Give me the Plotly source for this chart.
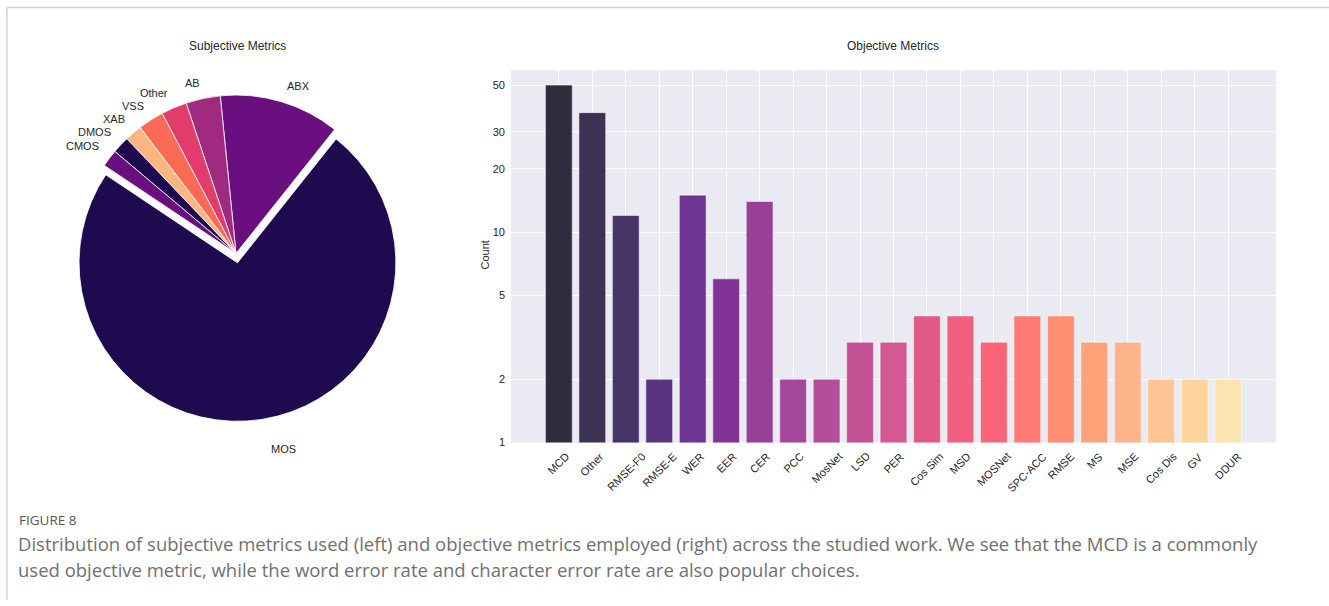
import math
import plotly.graph_objects as go

W, H = 1329, 606

# ---------------- data ----------------
pie_labels = ["MOS", "ABX", "AB", "Other", "VSS", "XAB", "DMOS", "CMOS"]
pie_values = [84, 14, 4, 3, 3, 2, 2, 2]
pie_colors = ["#1f0a50", "#690f80", "#a02a80", "#e13c6c", "#fa6a55", "#feb67e",
              "#1f0a50", "#690f80"]
pie_pull = [0.06, 0, 0, 0, 0, 0, 0, 0]

bar_labels = ["MCD", "Other", "RMSE-F0", "RMSE-E", "WER", "EER", "CER", "PCC",
              "MosNet", "LSD", "PER", "Cos Sim", "MSD", "MOSNet", "SPC-ACC",
              "RMSE", "MS", "MSE", "Cos Dis", "GV", "DDUR"]
bar_values = [50, 37, 12, 2, 15, 6, 14, 2, 2, 3, 3, 4, 4, 3, 4, 4, 3, 3, 2, 2, 2]
bar_colors = ["#2f2d3e", "#3c3254", "#463469", "#5a3480", "#6e3494", "#823496",
              "#96409a", "#a5489b", "#b44e9b", "#c35294", "#d45892", "#e15a87",
              "#f35f7f", "#fa6478", "#fe7a73", "#fe8f73", "#fea27a", "#feb48a",
              "#fec494", "#fdd49c", "#fae4b0"]
y_ticks = [1, 2, 5, 10, 20, 30, 50]

# ---------------- helpers ----------------
def px(x):
    return x / W

def py(y):
    return 1 - y / H

FONT = "Liberation Sans, Arial, sans-serif"
TXT = "#262626"

fig = go.Figure()

# ---------------- pie ----------------
cx, cy, r = 236, 256, 160
box = r * (2 + 2 * max(pie_pull))
first_end = 51.5  # math degrees where the first slice (MOS) ends, going counterclockwise
total = sum(pie_values)

fig.add_trace(go.Pie(
    labels=pie_labels, values=pie_values, sort=False,
    direction="counterclockwise", rotation=90 - first_end,
    pull=pie_pull, textinfo="none", hoverinfo="label+value",
    marker=dict(colors=pie_colors, line=dict(color="white", width=0.8)),
    domain=dict(x=[px(cx - box / 2), px(cx + box / 2)],
                y=[py(cy + box / 2), py(cy - box / 2)]),
    showlegend=False,
))

annotations = []
start_angle = first_end - pie_values[0] / total * 360
cum = 0
lcx, lcy = 237, 250
label_dist = [206, 170, 170, 170, 170, 170, 170, 170]
for lab, v, d in zip(pie_labels, pie_values, label_dist):
    th = math.radians(start_angle + (cum + v / 2) / total * 360)
    cum += v
    lx = lcx + d * math.cos(th)
    ly = lcy - d * math.sin(th)
    annotations.append(dict(
        x=px(lx), y=py(ly), xref="paper", yref="paper", text=lab,
        showarrow=False, xanchor="left" if math.cos(th) > 0 else "right",
        yanchor="middle", font=dict(family=FONT, size=11, color=TXT)))

# ---------------- bars ----------------
fig.add_trace(go.Bar(
    x=bar_labels, y=bar_values, width=0.8,
    marker=dict(color=bar_colors, line=dict(color="rgba(255,255,255,0.5)", width=1)),
    xaxis="x", yaxis="y", showlegend=False,
))

x0, x1, y0, y1 = 511, 1276, 71, 447
n = len(bar_labels)
fig.update_layout(
    width=W, height=H,
    margin=dict(l=0, r=0, t=0, b=0),
    paper_bgcolor="white", plot_bgcolor="#eaeaf2",
    xaxis=dict(domain=[px(x0), px(x1)], anchor="y",
               range=[-1.43, n - 1 + 1.43], type="category",
               showgrid=True, gridcolor="white", gridwidth=1,
               showticklabels=False, ticks="", zeroline=False, showline=False),
    yaxis=dict(domain=[py(y1), py(y0)], anchor="x", type="log",
               range=[0, math.log10(58.8)], tickvals=y_ticks,
               ticktext=[str(t) for t in y_ticks],
               showgrid=True, gridcolor="white", gridwidth=1,
               ticks="", zeroline=False, showline=False, ticklabelstandoff=5,
               tickfont=dict(family=FONT, size=11, color=TXT)),
)

# rotated category labels centred under each bar
for lab in bar_labels:
    annotations.append(dict(
        x=lab, y=py(452), xref="x", yref="paper", text=lab, textangle=-45,
        showarrow=False, xanchor="center", yanchor="top",
        font=dict(family=FONT, size=11, color=TXT)))

# titles, axis label
extra = [
    dict(x=px(237), y=py(46), text="Subjective Metrics", size=12),
    dict(x=px(893), y=py(46), text="Objective Metrics", size=12),
    dict(x=px(485), y=py(258), text="Count", textangle=-90, size=11),
]
for a in extra:
    s = a.pop("size")
    a.update(xref="paper", yref="paper", showarrow=False, xanchor="center",
             yanchor="middle", font=dict(family=FONT, size=s, color=TXT))
annotations += extra

# caption
CAP = "Open Sans, Lato, sans-serif"
annotations += [
    dict(x=px(17), y=py(525), text="FIGURE 8", xref="paper", yref="paper",
         showarrow=False, xanchor="left", yanchor="middle",
         font=dict(family=CAP, size=13.5, color="#555555")),
    dict(x=px(16), y=py(549), xref="paper", yref="paper", showarrow=False,
         xanchor="left", yanchor="middle",
         text="Distribution of subjective metrics used (left) and objective metrics employed (right) "
              "across the studied work. We see that the MCD is a commonly",
         font=dict(family=CAP, size=18.5, color="#707070")),
    dict(x=px(16), y=py(575), xref="paper", yref="paper", showarrow=False,
         xanchor="left", yanchor="middle",
         text="used objective metric, while the word error rate and character error rate are also popular choices.",
         font=dict(family=CAP, size=18.5, color="#707070")),
]
fig.update_layout(annotations=annotations)

# page border lines
fig.update_layout(shapes=[
    dict(type="line", xref="paper", yref="paper", x0=px(7), x1=1, y0=py(7.5), y1=py(7.5),
         line=dict(color="#d4d4d4", width=1.5)),
    dict(type="line", xref="paper", yref="paper", x0=px(7), x1=px(7), y0=py(7.5), y1=0,
         line=dict(color="#d4d4d4", width=1.5)),
])

fig.write_html("out.html")
